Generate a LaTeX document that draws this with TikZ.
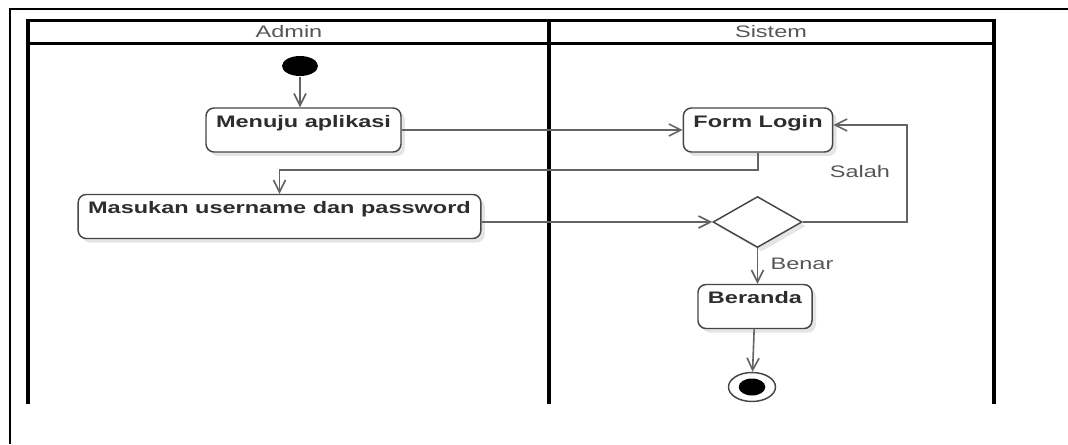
\documentclass[tikz,border=0pt]{standalone}
\usepackage{fontspec}
\setmainfont{Liberation Sans}
\usepackage{graphicx}
\usetikzlibrary{shapes.geometric,arrows.meta,shadows}

\definecolor{linegray}{RGB}{100,100,100}
\definecolor{boxgray}{RGB}{70,70,70}
\definecolor{textgray}{RGB}{45,45,45}
\definecolor{labelgray}{RGB}{85,85,85}

\newcommand{\wtext}[1]{\scalebox{1.41}[1]{#1}}

\tikzset{every picture/.style={line width=0.75pt}}
\tikzset{
  activity/.style={draw=boxgray, line width=1.1pt, rounded corners=6pt, fill=white,
    inner xsep=7.5pt, inner ysep=0pt, text height=14.25pt, text depth=18.75pt,
    text=textgray, font=\fontsize{12.5}{15}\selectfont\bfseries,
    drop shadow={shadow xshift=3pt, shadow yshift=-3pt, fill=black!10, opacity=1}},
  choice/.style={diamond, draw=boxgray, line width=1.1pt, fill=white, inner sep=0pt,
    minimum width=66.75pt, minimum height=38.25pt,
    drop shadow={shadow xshift=3pt, shadow yshift=-3pt, fill=black!10, opacity=1}},
  startdot/.style={ellipse, fill=black, inner sep=0pt, minimum width=27pt, minimum height=15pt},
  enddot/.style={ellipse, draw=boxgray, line width=1.1pt, fill=white, inner sep=0pt,
    minimum width=35.25pt, minimum height=21.75pt},
  flow/.style={draw=linegray, line width=1.2pt, -{Straight Barb[length=9pt,width=9pt]}},
  lanelabel/.style={text=labelgray, font=\fontsize{12.5}{15}\selectfont},
  guard/.style={text=labelgray, font=\fontsize{12.5}{15}\selectfont},
}

\begin{document}
\begin{tikzpicture}[x=0.75pt,y=0.75pt,yscale=-1,xscale=1]
	\useasboundingbox (0,0) rectangle (1068,444);

	%Straight Lines [outer frame]
	\draw [line width=1.5pt] (1068,9) -- (10,9) -- (10,444) ;
	%Shape: Swimlanes
	\draw [line width=2.25pt] (28,20) -- (994,20) ;
	\draw [line width=2.25pt] (28,43) -- (994,43) ;
	\draw [line width=3pt] (28,19) -- (28,404) ;
	\draw [line width=3pt] (549,19) -- (549,404) ;
	\draw [line width=3pt] (994,19) -- (994,404) ;

	% Text Node
	\node [lanelabel] (admin) at (289,32) {\wtext{Admin}};
	% Text Node
	\node [lanelabel] (sistem) at (771,32) {\wtext{Sistem}};

	% Activity nodes
	\node [startdot] (mulai) at (300,66) {};
	\node [activity] (menuju) at (303.5,130) {\wtext{Menuju aplikasi}};
	\node [activity] (login) at (758,130) {\wtext{Form Login}};
	\node [activity] (masukan) at (279.5,216.5) {\wtext{Masukan username dan password}};
	\node [choice] (cek) at (757.5,222) {};
	\node [activity] (beranda) at (755,306.5) {\wtext{Beranda}};
	\node [enddot] (akhir) at (752,387) {};
	\node [startdot, minimum width=20pt, minimum height=12.75pt] (akhirdot) at (akhir) {};

	% Text Node
	\node [guard] (salah) at (860,172) {\wtext{Salah}};
	% Text Node
	\node [guard] (benar) at (802,264) {\wtext{Benar}};

	\coordinate (balik) at (907,125);

	%Straight Lines
	\draw [flow] (mulai.south) -- (mulai.south |- menuju.north) ;
	\draw [flow] (menuju) -- (login) ;
	\draw [flow] (login.south) -- ++(0,17) -| (masukan.north) ;
	\draw [flow] (masukan.east |- cek) -- (cek) ;
	\draw [flow] (cek) -| (balik) -- (balik -| login.east) ;
	\draw [flow] (cek.south) -- (cek.south |- beranda.north) ;
	\draw [flow] (beranda) -- (akhir) ;

\end{tikzpicture}
\end{document}
